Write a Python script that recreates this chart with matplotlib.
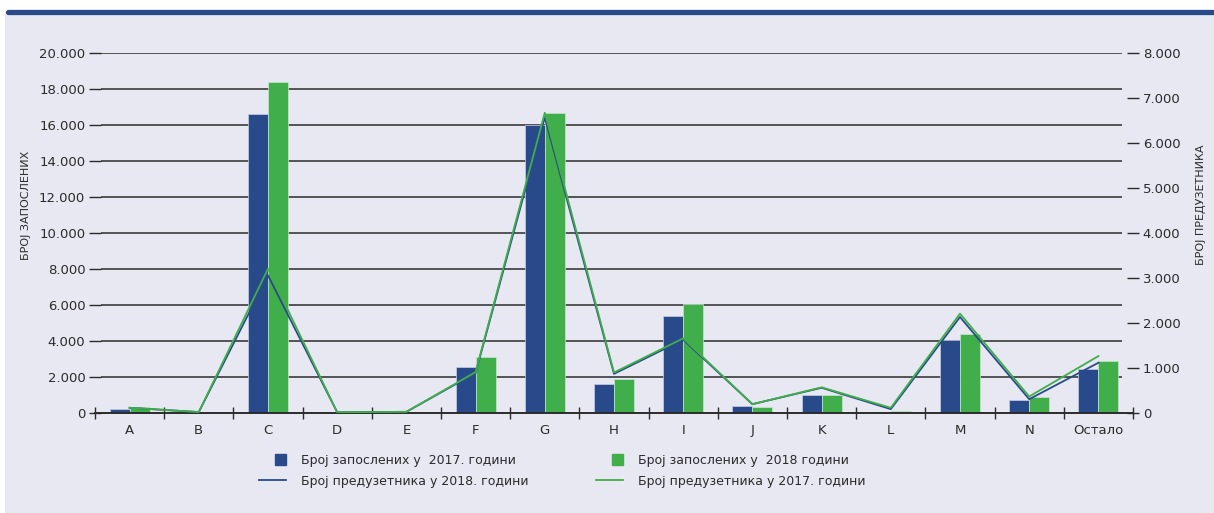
import matplotlib
matplotlib.use("Agg")
import matplotlib.pyplot as plt
from matplotlib.lines import Line2D
from matplotlib.patches import Rectangle
from matplotlib.legend_handler import HandlerPatch
from matplotlib.ticker import FuncFormatter

categories = ["A", "B", "C", "D", "E", "F", "G", "H", "I", "J", "K", "L", "M", "N", "Остало"]

# број запослених (лева оса)
employees_2017 = [220, 40, 16600, 10, 30, 2550, 16000, 1560, 5350, 350, 965, 55, 4010, 670, 2430]
employees_2018 = [280, 30, 18400, 10, 40, 3060, 16680, 1840, 6060, 300, 1000, 110, 4360, 890, 2860]

# број предузетника (десна оса)
entrepreneurs_2018 = [105, 10, 3050, 5, 15, 880, 6565, 860, 1620, 185, 550, 75, 2125, 296, 1107]
entrepreneurs_2017 = [105, 10, 3200, 5, 15, 900, 6670, 890, 1650, 185, 560, 105, 2200, 356, 1255]

left_ticks = list(range(0, 20001, 2000))
right_ticks = list(range(0, 8001, 1000))

blue = "#294a8a"
green = "#40ae4a"
bg = "#e8e8f2"
dark = "#2b2b2b"

plt.rcParams["font.family"] = ["DejaVu Sans"]

W, H = 1214, 513
fig = plt.figure(figsize=(W / 100, H / 100), dpi=100)
fig.patch.set_facecolor("white")

# позадина и горња линија
fig.patches.append(Rectangle((5 / W, 0), 1, 1 - 12 / H, transform=fig.transFigure,
                             facecolor=bg, edgecolor="none", zorder=-10))
fig.add_artist(Line2D([8 / W, 1], [1 - 12 / H, 1 - 12 / H], transform=fig.transFigure,
                      color=blue, lw=3.8, solid_capstyle="round"))

ax = fig.add_axes([95 / W, 1 - 412.5 / H, (1133 - 95) / W, (412.5 - 53) / H])
ax.set_facecolor("none")
ax2 = ax.twinx()

x = list(range(len(categories)))
w = 0.29

# хоризонталне линије мреже
ax.hlines(left_ticks[1:], -0.41, 14.34, color=dark, lw=1.1, zorder=0)

ax.bar([i - w / 2 for i in x], employees_2017, width=w, color=blue,
       edgecolor="#c9d0e3", linewidth=0.5, zorder=3)
ax.bar([i + w / 2 for i in x], employees_2018, width=w, color=green,
       edgecolor="#c9e6cb", linewidth=0.5, zorder=3)

ax2.plot(x, entrepreneurs_2018, color=blue, lw=1.3, zorder=4)
ax2.plot(x, entrepreneurs_2017, color=green, lw=1.3, zorder=5)

ax.set_xlim(-0.48, 14.5)
ax.set_ylim(0, 20000)
ax2.set_ylim(0, 8000)
ax.set_yticks(left_ticks)
ax2.set_yticks(right_ticks)

fmt = FuncFormatter(lambda v, p: f"{int(v):,}".replace(",", "."))
ax.yaxis.set_major_formatter(fmt)
ax2.yaxis.set_major_formatter(fmt)

for a in (ax, ax2):
    for s in a.spines.values():
        s.set_visible(False)
ax.spines["bottom"].set_visible(True)
ax.spines["bottom"].set_color(dark)
ax.spines["bottom"].set_linewidth(1.4)
ax.spines["bottom"].set_zorder(6)

ax.set_xticks(x)
ax.set_xticklabels(categories)
ax.set_xticks([i - 0.5 for i in range(len(categories) + 1)], minor=True)
ax.tick_params(axis="x", which="major", length=0, pad=8, labelsize=9.5, labelcolor=dark)
ax.tick_params(axis="x", which="minor", length=8, direction="inout", color=dark, width=1)
ax.tick_params(axis="y", length=8, direction="inout", color=dark, width=1,
               labelsize=9.5, labelcolor=dark, pad=3)
ax2.tick_params(axis="y", length=8, direction="inout", color=dark, width=1,
                labelsize=9.5, labelcolor=dark, pad=3)

fig.text(26 / W, 1 - 205 / H, "БРОЈ ЗАПОСЛЕНИХ", rotation=90, ha="center", va="center",
         fontsize=8, color=dark)
fig.text(1201 / W, 1 - 205 / H, "БРОЈ ПРЕДУЗЕТНИКА", rotation=90, ha="center", va="center",
         fontsize=8, color=dark)


# квадратић у легенди уз десну ивицу поља
def square_right(legend, orig_handle, xdescent, ydescent, width, height, fontsize):
    s = 8.0
    return Rectangle((width - xdescent - s, height / 2 - ydescent - s / 2), s, s)


handles = [
    Rectangle((0, 0), 1, 1, color=blue),
    Line2D([], [], color=blue, lw=1.3),
    Rectangle((0, 0), 1, 1, color=green),
    Line2D([], [], color=green, lw=1.3),
]
labels = [
    "Број запослених у  2017. години",
    "Број предузетника у 2018. години",
    "Број запослених у  2018 години",
    "Број предузетника у 2017. години",
]
fig.legend(handles, labels, ncol=2, loc="center", bbox_to_anchor=(562 / W, 1 - 471 / H),
           frameon=False, fontsize=9, handlelength=2.15, handletextpad=1.2,
           columnspacing=5.4, labelspacing=0.6, labelcolor=dark,
           handler_map={Rectangle: HandlerPatch(patch_func=square_right)})

fig.savefig("out.png", dpi=100, facecolor=fig.get_facecolor())
